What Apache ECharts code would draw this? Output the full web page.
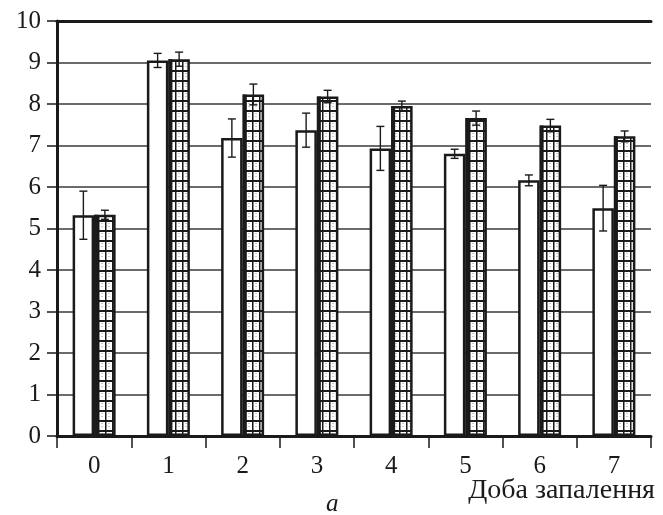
<!DOCTYPE html>
<html>
<head>
<meta charset="utf-8">
<script src="https://cdn.jsdelivr.net/npm/echarts@6/dist/echarts.min.js"></script>
<style>html,body{margin:0;padding:0;background:#fff;}#c{width:663px;height:515px;}</style>
</head>
<body>
<div id="c"></div>
<script>
var categories = ['0','1','2','3','4','5','6','7'];
var whiteValues = [5.32, 9.05, 7.18, 7.37, 6.93, 6.80, 6.16, 5.49];
var whiteErrors = [0.58, 0.17, 0.46, 0.41, 0.53, 0.11, 0.13, 0.55];
var hatchValues = [5.33, 9.08, 8.23, 8.18, 7.95, 7.66, 7.48, 7.22];
var hatchErrors = [0.11, 0.17, 0.25, 0.15, 0.12, 0.17, 0.15, 0.13];
var yTicks = [0,1,2,3,4,5,6,7,8,9,10];
var xAxisName = 'Доба запалення';
var panelLabel = 'а';

var FONT = '"Liberation Serif", "DejaVu Serif", serif';
var FS = 25;
var BAR_W = 21.5;

function makePattern() {
  var c = document.createElement('canvas');
  c.width = 7; c.height = 10;
  var ctx = c.getContext('2d');
  ctx.fillStyle = '#ffffff';
  ctx.fillRect(0, 0, 7, 10);
  ctx.fillStyle = '#1a1a1a';
  ctx.fillRect(0, 0, 7, 2);
  ctx.fillRect(0, 0, 1.5, 10);
  ctx.fillStyle = '#9a9a9a';
  ctx.fillRect(3.5, 3, 1, 1);
  ctx.fillRect(3.5, 6, 1, 1);
  return c;
}

function errSeries(values, errors, side) {
  var data = values.map(function (v, i) { return [i, v, errors[i]]; });
  return {
    type: 'custom',
    z: 5,
    data: data,
    renderItem: function (params, api) {
      var i = api.value(0), v = api.value(1), e = api.value(2);
      var top = api.coord([i, v + e]);
      var bot = api.coord([i, v - e]);
      var x = top[0] + side * BAR_W / 2;
      var cap = 4;
      var st = { stroke: '#1a1a1a', lineWidth: 1.4 };
      return {
        type: 'group',
        children: [
          { type: 'line', shape: { x1: x, y1: top[1], x2: x, y2: bot[1] }, style: st },
          { type: 'line', shape: { x1: x - cap, y1: top[1], x2: x + cap, y2: top[1] }, style: st },
          { type: 'line', shape: { x1: x - cap, y1: bot[1], x2: x + cap, y2: bot[1] }, style: st }
        ]
      };
    }
  };
}

function leftEdgeSeries(values) {
  return {
    type: 'custom',
    z: 4,
    data: values.map(function (v, i) { return [i, v]; }),
    renderItem: function (params, api) {
      var t = api.coord([api.value(0), api.value(1)]);
      var b = api.coord([api.value(0), 0]);
      var x = t[0] + 2;
      return { type: 'line', shape: { x1: x, y1: t[1], x2: x, y2: b[1] }, style: { stroke: '#1a1a1a', lineWidth: 4 } };
    }
  };
}

var chart = echarts.init(document.getElementById('c'), null, { renderer: 'canvas' });
chart.setOption({
  animation: false,
  backgroundColor: '#ffffff',
  grid: { left: 57, right: 12, top: 21, bottom: 79, containLabel: false },
  xAxis: [{
    type: 'category',
    data: categories,
    position: 'bottom',
    axisLine: { lineStyle: { color: '#1a1a1a', width: 3 } },
    axisTick: { show: true, length: 12, lineStyle: { color: '#1a1a1a', width: 1.5 } },
    axisLabel: { fontFamily: FONT, fontSize: FS, color: '#1a1a1a', margin: 18 },
    splitLine: { show: false }
  }, {
    type: 'category',
    data: categories,
    position: 'top',
    axisLine: { lineStyle: { color: '#1a1a1a', width: 3 } },
    axisTick: { show: false },
    axisLabel: { show: false }
  }],
  yAxis: {
    type: 'value',
    min: yTicks[0],
    max: yTicks[yTicks.length - 1],
    interval: 1,
    axisLine: { show: true, lineStyle: { color: '#1a1a1a', width: 3 } },
    axisTick: { show: true, length: 10, lineStyle: { color: '#1a1a1a', width: 1.5 } },
    axisLabel: { fontFamily: FONT, fontSize: FS, color: '#1a1a1a', margin: 16 },
    splitLine: { show: true, lineStyle: { color: '#3a3a3a', width: 1.5 } }
  },
  series: [{
    type: 'bar',
    data: whiteValues,
    barWidth: BAR_W,
    barGap: '0%',
    itemStyle: { color: '#ffffff', borderColor: '#1a1a1a', borderWidth: 2.5 }
  }, {
    type: 'bar',
    data: hatchValues,
    barWidth: BAR_W,
    itemStyle: { color: { image: makePattern(), repeat: 'repeat' }, borderColor: '#1a1a1a', borderWidth: 2.5 }
  },
  leftEdgeSeries(hatchValues),
  errSeries(whiteValues, whiteErrors, -1),
  errSeries(hatchValues, hatchErrors, 1)],
  graphic: [{
    type: 'text',
    right: 8,
    top: 477,
    style: { text: xAxisName, font: '28px ' + FONT, fill: '#1a1a1a' }
  }, {
    type: 'text',
    left: 326,
    top: 492,
    style: { text: panelLabel, font: 'italic ' + FS + 'px ' + FONT, fill: '#1a1a1a' }
  }]
});
</script>
</body>
</html>
